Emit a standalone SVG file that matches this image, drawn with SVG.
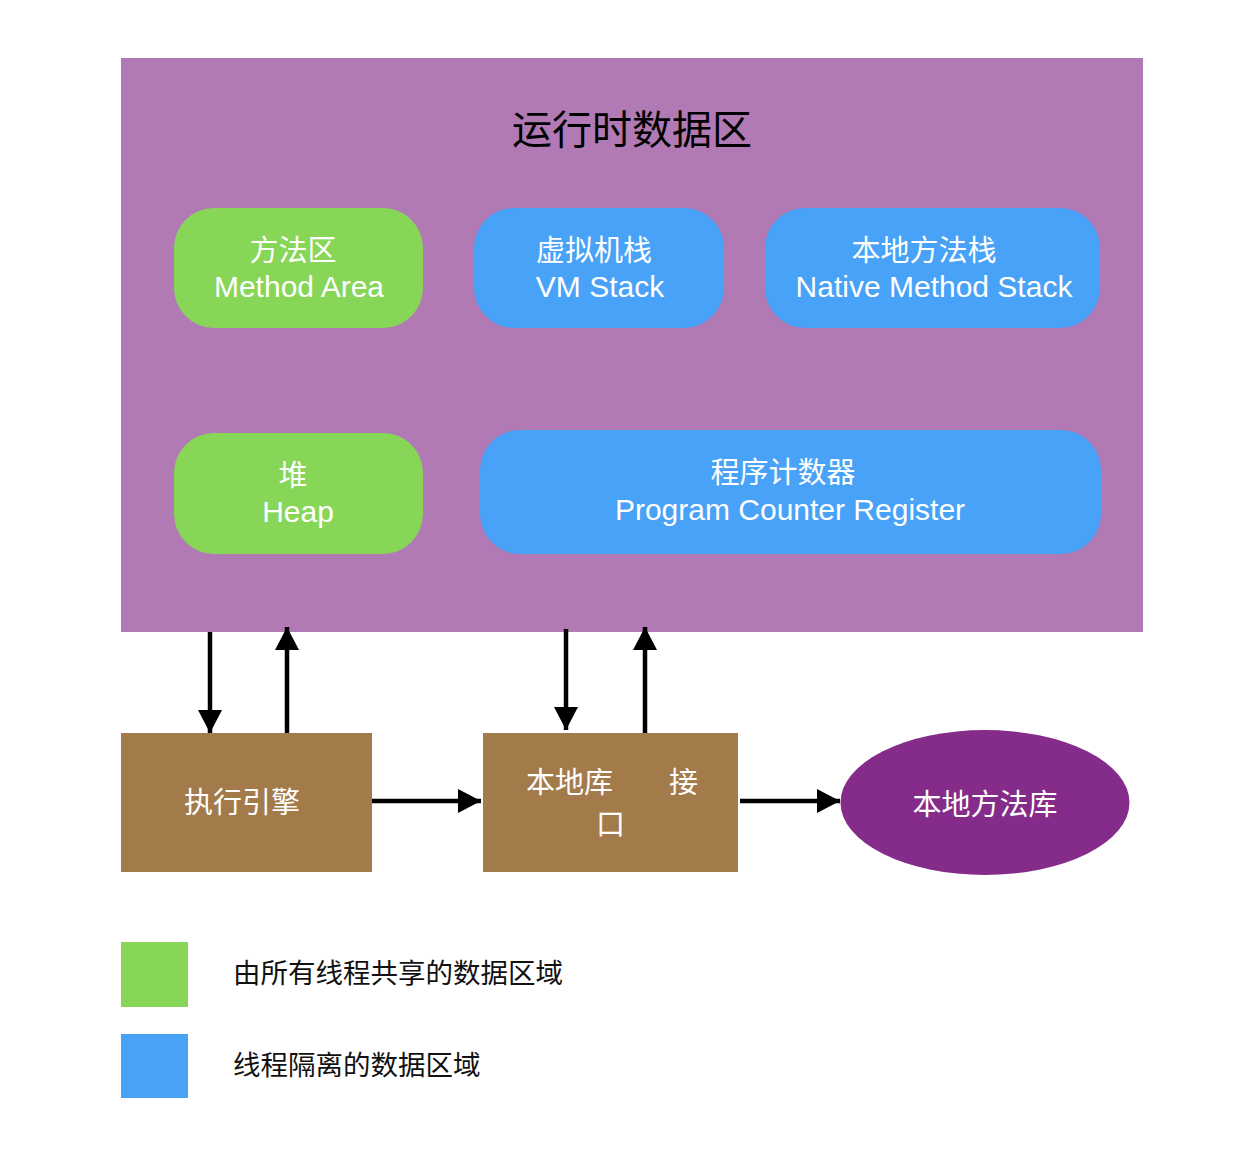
<svg xmlns="http://www.w3.org/2000/svg" width="1250" height="1158" viewBox="0 0 1250 1158">
<style>
  .cjk { font-family: "Liberation Sans", "Noto Sans CJK SC", sans-serif; }
  .lbl { font-size: 29px; fill: #ffffff; text-anchor: middle; }
  .en { font-size: 30px; }
  .title { font-size: 40px; fill: #000000; text-anchor: middle; }
  .legend { font-size: 27.5px; fill: #111111; }
  .green { fill: #87D657; }
  .blue { fill: #48A2F8; }
  .brown { fill: #A37B4A; }
  .conn { stroke: #000000; stroke-width: 4.5; fill: none; }
</style>
<defs>
  <marker id="arrow" viewBox="0 0 23 24" refX="23" refY="12" markerWidth="23" markerHeight="24" markerUnits="userSpaceOnUse" orient="auto">
    <path d="M0,0 L23,12 L0,24 Z" fill="#000000"/>
  </marker>
</defs>
<rect width="1250" height="1158" fill="#ffffff"/>

<g id="runtime-data-area">
  <rect x="121" y="58" width="1022" height="574" fill="#B17AB4"/>
  <text class="cjk title" x="632" y="144">运行时数据区</text>
</g>

<g id="method-area">
  <rect class="green" x="174" y="208" width="249" height="120" rx="40" ry="40"/>
  <text class="cjk lbl"><tspan x="293" y="261">方法区</tspan><tspan class="en" x="299" y="297">Method Area</tspan></text>
</g>

<g id="vm-stack">
  <rect class="blue" x="474" y="208" width="250" height="120" rx="40" ry="40"/>
  <text class="cjk lbl"><tspan x="594" y="261">虚拟机栈</tspan><tspan class="en" x="600" y="297">VM Stack</tspan></text>
</g>

<g id="native-method-stack">
  <rect class="blue" x="765" y="208" width="335" height="120" rx="40" ry="40"/>
  <text class="cjk lbl"><tspan x="924" y="261">本地方法栈</tspan><tspan class="en" x="934" y="297">Native Method Stack</tspan></text>
</g>

<g id="heap">
  <rect class="green" x="174" y="433" width="249" height="121" rx="40" ry="40"/>
  <text class="cjk lbl"><tspan x="293" y="486">堆</tspan><tspan class="en" x="298" y="522">Heap</tspan></text>
</g>

<g id="program-counter-register">
  <rect class="blue" x="480" y="430" width="621" height="124" rx="40" ry="40"/>
  <text class="cjk lbl"><tspan x="783" y="483">程序计数器</tspan><tspan class="en" x="790" y="520">Program Counter Register</tspan></text>
</g>

<g id="execution-engine">
  <rect class="brown" x="121" y="733" width="251" height="139"/>
  <text class="cjk lbl" x="242" y="813">执行引擎</text>
</g>

<g id="native-interface">
  <rect class="brown" x="483" y="733" width="255" height="139"/>
  <text class="cjk lbl" style="text-anchor:start"><tspan x="526" y="793">本地库</tspan><tspan x="669" y="793">接</tspan><tspan x="596" y="835">口</tspan></text>
</g>

<g id="native-method-library">
  <ellipse cx="985" cy="802.5" rx="144.5" ry="72.5" fill="#852C8A"/>
  <text class="cjk lbl" x="985" y="815">本地方法库</text>
</g>

<g id="connectors">
  <line class="conn" x1="210" y1="632" x2="210" y2="733" marker-end="url(#arrow)"/>
  <line class="conn" x1="287" y1="733" x2="287" y2="627" marker-end="url(#arrow)"/>
  <line class="conn" x1="566" y1="629" x2="566" y2="730" marker-end="url(#arrow)"/>
  <line class="conn" x1="645" y1="733" x2="645" y2="627" marker-end="url(#arrow)"/>
  <line class="conn" x1="372" y1="801" x2="481" y2="801" marker-end="url(#arrow)"/>
  <line class="conn" x1="740" y1="801" x2="840" y2="801" marker-end="url(#arrow)"/>
</g>

<g id="legend-shared">
  <rect class="green" x="121" y="942" width="67" height="65"/>
  <text class="cjk legend" x="233" y="983">由所有线程共享的数据区域</text>
</g>

<g id="legend-isolated">
  <rect class="blue" x="121" y="1034" width="67" height="64"/>
  <text class="cjk legend" x="233" y="1075">线程隔离的数据区域</text>
</g>
</svg>
